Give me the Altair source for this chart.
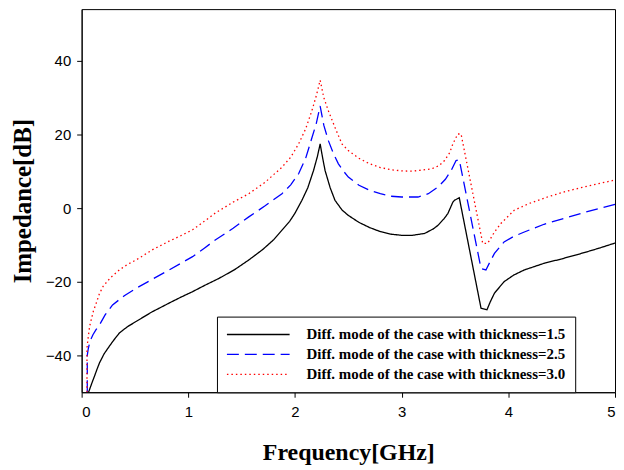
import altair as alt
import pandas as pd

labels = [
    "Diff. mode of the case with thickness=1.5",
    "Diff. mode of the case with thickness=2.5",
    "Diff. mode of the case with thickness=3.0",
]

x15 = [0.065, 0.08, 0.1, 0.121, 0.145, 0.168, 0.21, 0.26, 0.3, 0.354, 0.43, 0.51, 0.59, 0.665, 0.74,
       0.82, 0.93, 1.04, 1.16, 1.287, 1.43, 1.567, 1.7, 1.8,
       1.878, 1.95, 2.0, 2.065, 2.12, 2.174, 2.21, 2.236, 2.26, 2.282, 2.33, 2.375, 2.44, 2.5, 2.6,
       2.7, 2.8, 2.9, 3.0, 3.1, 3.215, 3.3, 3.34, 3.4, 3.433, 3.48, 3.495, 3.54, 3.744, 3.8, 3.83,
       3.87, 3.96, 4.05, 4.15, 4.335, 4.5, 4.7, 4.85, 5.0]
y15 = [-50, -48.8, -47.2, -45.6, -43.7, -42, -39.6, -37.5, -35.9, -33.9, -32.2, -30.8, -29.4, -28.1, -27.0,
       -25.8, -24.2, -22.7, -20.9, -19.1, -16.8, -14.1, -11.2, -8.6,
       -6.0, -3.6, -1.4, 2.1, 5.5, 10.2, 14, 17.4, 13.5, 10.2, 5.5, 2.1, -0.5, -2, -3.9,
       -5.3, -6.4, -7.1, -7.4, -7.4, -6.9, -5.6, -4.7, -2.8, -1.5, 1.6, 2.1, 2.8, -27.2, -27.6, -25.5,
       -23.1, -20, -18.2, -16.8, -15, -13.8, -12.2, -10.9, -9.5]

x25 = [0.053, 0.053, 0.062, 0.075, 0.09, 0.106, 0.135, 0.168, 0.22, 0.29, 0.4, 0.51, 0.665, 0.82, 0.93,
       1.04, 1.15, 1.256, 1.42, 1.567, 1.72,
       1.878, 1.96, 2.034, 2.1, 2.158, 2.2, 2.236, 2.27, 2.313, 2.36, 2.407, 2.45, 2.5, 2.6, 2.7,
       2.8, 2.9, 3.0, 3.153, 3.25, 3.34, 3.41, 3.464, 3.51, 3.54, 3.744, 3.79, 3.83, 3.87, 3.96,
       4.05, 4.15, 4.335, 4.5, 4.7, 4.85, 5.0]
y25 = [-50, -40, -38.2, -36.6, -35.4, -34.4, -33.0, -31.7, -29.0, -26.3, -23.8, -21.8, -19.3, -16.8, -15.0,
       -13.2, -10.9, -8.6, -5.5, -2.4, 0.6,
       3.9, 6.3, 9.3, 13.5, 19, 23, 27.7, 22.5, 18.3, 14.8, 12, 10.2, 8.4, 6.2, 4.8,
       3.9, 3.2, 3.0, 3.0, 3.9, 5.7, 7.8, 10.2, 12.9, 13.1, -16.4, -16.8, -14.5, -12.3, -9.2,
       -7.7, -6.5, -4.4, -3.0, -1.3, -0.1, 1.0]

x30 = [0.05, 0.05, 0.059, 0.075, 0.09, 0.11, 0.137, 0.165, 0.2, 0.27, 0.354, 0.43, 0.51, 0.665, 0.82,
       0.93, 1.04, 1.15, 1.256, 1.42,
       1.567, 1.72, 1.878, 1.96, 2.034, 2.1, 2.158, 2.2, 2.236, 2.27, 2.313, 2.38, 2.44, 2.5, 2.6,
       2.7, 2.8, 2.9, 3.0, 3.1, 3.277, 3.35, 3.402, 3.45, 3.48, 3.526, 3.557, 3.76, 3.806, 3.87,
       3.93, 4.055, 4.2, 4.366, 4.55, 4.75, 5.0]
y30 = [-50, -38, -35.7, -32.1, -30.3, -28.0, -25.8, -23.4, -21.3, -18.9, -16.8, -15.3, -14.1, -11.3, -9.0,
       -7.5, -5.9, -3.6, -1.3, 1.6,
       3.9, 7.0, 11.1, 13.8, 17.4, 21.5, 26.4, 30.5, 34.7, 30, 26.4, 21.5, 17.4, 15.6, 13.5,
       12.0, 11.0, 10.4, 10.1, 10.0, 10.6, 11.5, 12.9, 15.0, 17.4, 20.1, 20.1, -9.6, -9.6, -6.5,
       -4.2, -0.6, 1.3, 3.0, 4.6, 6.0, 7.6]

x_ticks = [0, 1, 2, 3, 4, 5]
y_ticks = [-40, -20, 0, 20, 40]

rows = []
for lab, xs, ys in zip(labels, [x15, x25, x30], [y15, y25, y30]):
    for i, (a, b) in enumerate(zip(xs, ys)):
        rows.append({"series": lab, "f": a, "z": b, "i": i})
df = pd.DataFrame(rows)

legend = alt.Legend(
    title=None, orient="none", legendX=136, legendY=309,
    symbolType="stroke", symbolSize=3969, symbolStrokeWidth=1.3,
    clipHeight=18, rowPadding=2,
    labelFont="Liberation Serif", labelFontWeight="bold", labelFontSize=15,
    labelColor="black", labelOffset=16, labelLimit=0,
    strokeColor="black", fillColor="white", padding=9, cornerRadius=0,
)

chart = alt.Chart(df).mark_line(strokeWidth=1.3, clip=True).encode(
    x=alt.X("f:Q", scale=alt.Scale(domain=[0, 5], nice=False),
            axis=alt.Axis(values=x_ticks, title="Frequency[GHz]", titleFontSize=24,
                          titlePadding=22, labelPadding=7)),
    y=alt.Y("z:Q", scale=alt.Scale(domain=[-50, 54], nice=False, zero=False),
            axis=alt.Axis(values=y_ticks, title="Impedance[dB]", titleFontSize=25,
                          titlePadding=10, labelPadding=6)),
    color=alt.Color("series:N", scale=alt.Scale(domain=labels, range=["black", "#0000ff", "#ff0000"]),
                    legend=legend),
    strokeDash=alt.StrokeDash("series:N", scale=alt.Scale(domain=labels, range=[[1, 0], [12, 6], [1.5, 3]]),
                              legend=legend),
    order="i:Q",
).properties(
    width=536, height=385,
    padding={"left": 2, "top": 0, "right": 0, "bottom": 0},
).configure_view(
    stroke="black", strokeWidth=1
).configure_axis(
    grid=False, domainColor="black", tickColor="black", labelColor="black",
    labelFont="Liberation Sans", labelFontSize=15, titleFont="Liberation Serif",
    titleFontWeight="bold", titleColor="black", tickSize=5,
)

chart.save("out.html", embed_options={"renderer": "svg", "actions": False})
